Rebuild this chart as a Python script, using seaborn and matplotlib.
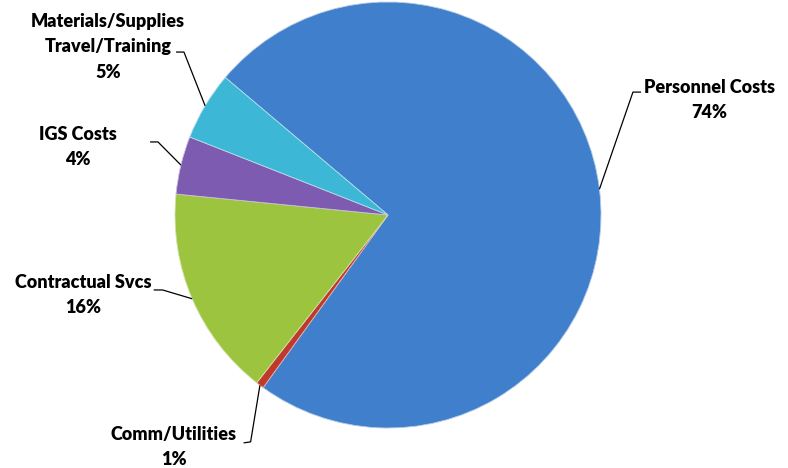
import numpy as np
import seaborn as sns
import matplotlib.pyplot as plt

# --- data ---
categories = ["Personnel Costs", "Comm/Utilities", "Contractual Svcs",
              "IGS Costs", "Materials/Supplies\nTravel/Training"]
shares = [73.8, 0.6, 16.0, 4.4, 5.2]
pct_labels = ["74%", "1%", "16%", "4%", "5%"]
colors = ["#3f7fcc", "#c0392b", "#9cc43e", "#7d5bb0", "#3db7d6"]

# label placement (layout only, in pie-radius units)
label_pos = [(1.51, 0.54), (-1.005, -1.09), (-1.43, -0.375), (-1.455, 0.32), (-1.315, 0.79)]
elbow_a = [(1.150, 0.577), (-0.678, -1.07), (-1.100, -0.352), (-1.117, 0.343), (-0.995, 0.765)]
elbow_b = [(1.188, 0.577), (-0.645, -1.065), (-1.058, -0.352), (-1.080, 0.343), (-0.958, 0.765)]

sns.set_theme(style="white")
plt.rcParams["font.family"] = ["Lato", "DejaVu Sans"]

fig = plt.figure(figsize=(7.88, 4.68), dpi=100)
ax = fig.add_axes([0, 0, 1, 1])

wedges, _ = ax.pie(shares, colors=colors, startangle=139.8, counterclock=False,
                   radius=1.0, center=(0, 0),
                   wedgeprops=dict(edgecolor="white", linewidth=0.6))

# soft shading rim to mimic the bevelled look
for w, c in zip(wedges, colors):
    w.set_edgecolor(sns.light_palette(c, n_colors=4)[1])

for w, name, pct, lp, ea, eb in zip(wedges, categories, pct_labels, label_pos, elbow_a, elbow_b):
    ang = np.deg2rad((w.theta1 + w.theta2) / 2)
    edge = (np.cos(ang), np.sin(ang))
    if lp[0] > 0:
        xs = [edge[0], ea[0], eb[0]]
        ys = [edge[1], ea[1], eb[1]]
    else:
        xs = [edge[0], eb[0], ea[0]]
        ys = [edge[1], eb[1], ea[1]]
    ax.plot(xs, ys, color="black", linewidth=0.9, solid_capstyle="butt")
    ax.text(lp[0], lp[1], name + "\n" + pct, ha="center", va="center",
            fontsize=13, fontweight="heavy", color="black", linespacing=1.6)

ax.set_xlim(-388 / 213, 400 / 213)
ax.set_ylim(-253 / 213, 215 / 213)
ax.set_aspect("equal")
ax.axis("off")

fig.savefig("out.png", dpi=100)
